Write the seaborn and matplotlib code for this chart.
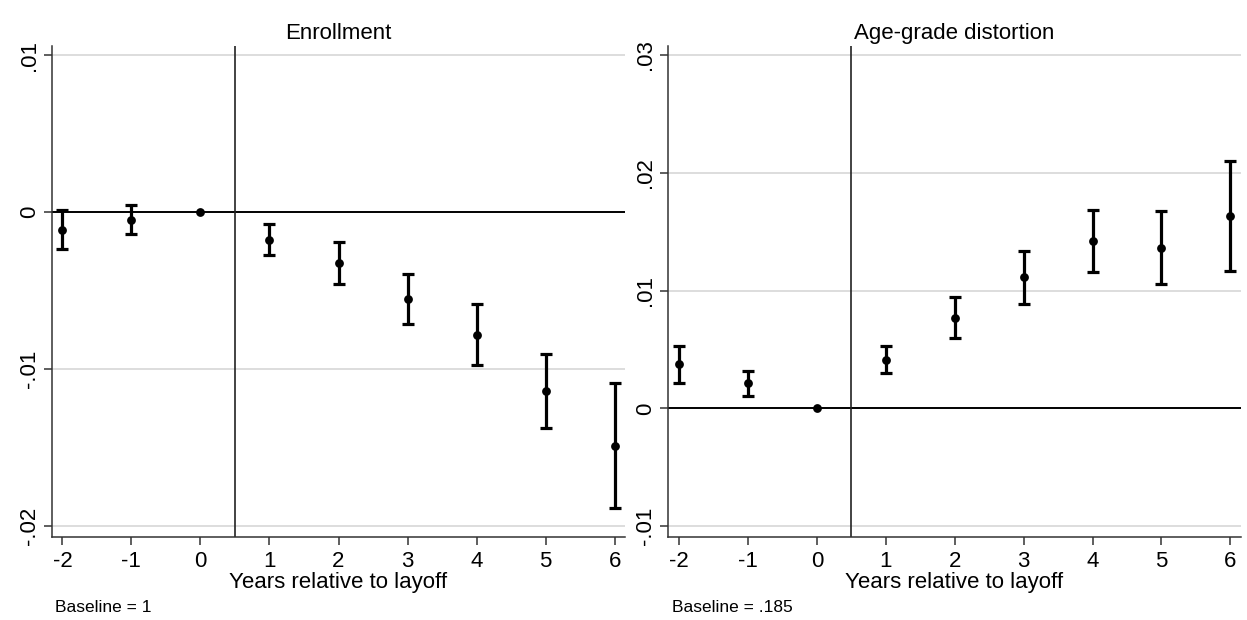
import numpy as np
import pandas as pd
import matplotlib
matplotlib.use("Agg")
import matplotlib.pyplot as plt
import seaborn as sns

# ---------------- data ----------------
years = [-2, -1, 0, 1, 2, 3, 4, 5, 6]

enroll_est = [-0.00113, -0.00050, 0.0, -0.00176, -0.00327, -0.00553, -0.00781, -0.01141, -0.01490]
enroll_lo = [-0.00236, -0.00140, 0.0, -0.00274, -0.00457, -0.00711, -0.00977, -0.01377, -0.01887]
enroll_hi = [0.00010, 0.00043, 0.0, -0.00078, -0.00193, -0.00392, -0.00585, -0.00905, -0.01090]

agd_est = [0.00374, 0.00212, 0.0, 0.00413, 0.00770, 0.01113, 0.01418, 0.01361, 0.01634]
agd_lo = [0.00212, 0.00104, 0.0, 0.00296, 0.00595, 0.00887, 0.01156, 0.01055, 0.01163]
agd_hi = [0.00532, 0.00317, 0.0, 0.00531, 0.00945, 0.01334, 0.01684, 0.01674, 0.02101]

titles = ["Enrollment", "Age-grade distortion"]
baseline_notes = ["Baseline = 1", "Baseline = .185"]
xlabel = "Years relative to layoff"

enroll_yticks = [0.01, 0.0, -0.01, -0.02]
enroll_yticklabels = [".01", "0", "-.01", "-.02"]
agd_yticks = [0.03, 0.02, 0.01, 0.0, -0.01]
agd_yticklabels = [".03", ".02", ".01", "0", "-.01"]
xticks = years
xticklabels = ["-2", "-1", "0", "1", "2", "3", "4", "5", "6"]

# ---------------- style ----------------
sns.set_theme(style="white")
plt.rcParams["font.family"] = ["Liberation Sans", "DejaVu Sans"]

fig = plt.figure(figsize=(12.47, 6.2), dpi=100)
fig.patch.set_facecolor("white")

panels = [
    dict(pos=[51.7 / 1247, 83.3 / 620, 573.3 / 1247, 491.1 / 620],
         est=enroll_est, lo=enroll_lo, hi=enroll_hi,
         yt=enroll_yticks, ytl=enroll_yticklabels, ylim=(-0.02068, 0.0106),
         note_x=55 / 1247),
    dict(pos=[668.3 / 1247, 83.3 / 620, 572.4 / 1247, 491.1 / 620],
         est=agd_est, lo=agd_lo, hi=agd_hi,
         yt=agd_yticks, ytl=agd_yticklabels, ylim=(-0.0109, 0.0308),
         note_x=671.5 / 1247),
]

for i, p in enumerate(panels):
    ax = fig.add_axes(p["pos"])
    df = pd.DataFrame({"year": years, "est": p["est"], "lo": p["lo"], "hi": p["hi"]})

    # gridlines at y ticks
    for yv in p["yt"]:
        if yv != 0:
            ax.axhline(yv, color="#dadada", lw=1.3, zorder=0)
    ax.axhline(0, color="black", lw=1.4, zorder=1)
    ax.axvline(0.5, color="#222222", lw=1.2, zorder=1)

    # CI bars (skip the reference year with zero width)
    ci = df[df["hi"] != df["lo"]]
    ax.errorbar(ci["year"], ci["est"],
                yerr=[ci["est"] - ci["lo"], ci["hi"] - ci["est"]],
                fmt="none", ecolor="black", elinewidth=2.3, capsize=4.2,
                capthick=2.3, zorder=2)
    sns.scatterplot(data=df, x="year", y="est", ax=ax, color="black",
                    s=40, edgecolor="black", linewidth=0, zorder=3, legend=False)

    ax.set_xlim(-2.155, 6.15)
    ax.set_ylim(*p["ylim"])
    ax.set_xticks(xticks)
    ax.set_xticklabels(xticklabels)
    ax.set_yticks(p["yt"])
    ax.set_yticklabels(p["ytl"], rotation=90, va="center", ha="right")

    for s in ["top", "right"]:
        ax.spines[s].set_visible(False)
    for s in ["left", "bottom"]:
        ax.spines[s].set_color("#333333")
        ax.spines[s].set_linewidth(1.1)

    ax.tick_params(axis="both", which="major", direction="out", length=6,
                   width=1.1, color="#333333", labelsize=16, labelcolor="black",
                   left=True, bottom=True)
    ax.tick_params(axis="x", pad=4)
    ax.tick_params(axis="y", pad=2.5)

    ax.set_title(titles[i], fontsize=16, color="black", pad=5)
    ax.set_xlabel(xlabel, fontsize=16, color="black", labelpad=0)
    ax.set_ylabel("")
    ax.grid(False)

    fig.text(p["note_x"], 1 - 608 / 620, baseline_notes[i], fontsize=12.5,
             va="center", ha="left", color="black")

fig.savefig("out.png", dpi=100, facecolor="white")
